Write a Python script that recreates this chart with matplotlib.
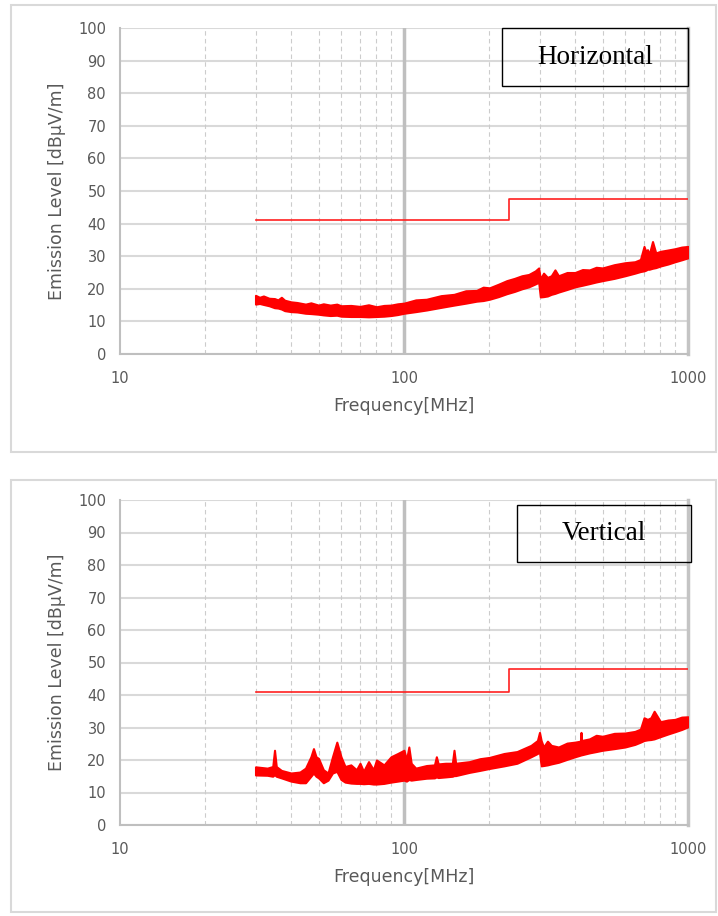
"""
Radiated emission plots, horizontal and vertical polarisation
"""

import matplotlib
matplotlib.use("Agg")
import matplotlib.pyplot as plt
from matplotlib.patches import Rectangle
from matplotlib.ticker import FixedLocator, NullFormatter

# limit line (MHz, dBuV/m)
LIM_FREQ = [30, 235, 235, 1000]
H_LIMIT = [41, 41, 47.5, 47.5]
V_LIMIT = [41, 41, 48, 48]

# horizontal trace envelope
H_FREQ = [30, 31, 32, 33.5, 35, 36, 37, 38, 40, 42, 45, 47, 50, 52, 55, 58,
          60, 65, 70, 75, 80, 85, 90, 95, 100, 110, 120, 135, 150, 165, 180,
          190, 200, 215, 230, 245, 260, 275, 290, 298, 302, 310, 320, 330,
          340, 350, 375, 400, 425, 450, 475, 500, 550, 600, 650, 680, 700,
          710, 720, 730, 750, 770, 800, 850, 900, 950, 1000]
H_UPPER = [18, 17.4, 17.8, 17.1, 17, 16.6, 17.4, 16.5, 16, 15.8, 15.3, 15.7,
           15, 15.4, 15, 15.3, 14.8, 14.9, 14.6, 15.1, 14.5, 14.9, 15, 15.4,
           15.6, 16.6, 16.8, 17.9, 18.3, 19.4, 19.5, 20.5, 20.3, 21.4, 22.5,
           23.2, 24, 24.4, 25.5, 26.4, 23, 24.8, 23.5, 24, 25.8, 24, 25,
           25, 25.9, 25.8, 26.6, 26.4, 27.4, 28, 28.3, 29, 33, 31.5, 32,
           30.5, 34.5, 31, 31.5, 31.9, 32.3, 32.8, 33]
H_LOWER = [15.3, 15.5, 15.2, 14.8, 14.2, 14.1, 13.8, 13.3, 13, 12.9, 12.5,
           12.4, 12.2, 12, 11.8, 11.9, 11.6, 11.5, 11.5, 11.4, 11.5, 11.6,
           11.8, 12.1, 12.5, 13, 13.5, 14.3, 15, 15.6, 16.2, 16.4, 16.8,
           17.6, 18.5, 19.2, 20, 20.6, 21.5, 22, 17.5, 17.6, 17.8, 18.3,
           18.6, 19, 19.8, 20.6, 21.1, 21.6, 22.1, 22.5, 23.2, 24, 24.8,
           25.3, 25.5, 25.7, 26, 26, 26.3, 26.5, 27, 27.6, 28.3, 28.9, 29.5]

# vertical trace envelope
V_FREQ = [30, 33, 34.5, 35, 35.5, 37, 40, 43, 45, 47, 48, 49, 50, 52, 54, 56,
          58, 60, 62, 65, 68, 70, 72, 75, 78, 80, 85, 90, 95, 100, 102, 104,
          106, 110, 120, 128, 130, 132, 140, 148, 150, 152, 170, 185, 200,
          225, 250, 280, 295, 300, 304, 310, 320, 330, 350, 375, 400, 418,
          420, 422, 450, 475, 500, 550, 600, 650, 680, 700, 720, 740, 760,
          800, 850, 900, 950, 1000]
V_UPPER = [17.9, 17.5, 18, 23, 18, 16.8, 16, 16.3, 17.5, 21, 23.5, 21, 20.5,
           17, 16, 21, 25.5, 21, 18, 18.5, 17, 19, 16.5, 19.5, 17, 20, 18.5,
           21, 22, 23, 20, 24, 19, 17.5, 18.3, 18.5, 21, 18.8, 19, 19, 23, 19,
           19.5, 20.4, 20.8, 22, 22.6, 24.5, 26, 28.5, 26, 24, 25.8, 24.5,
           24, 25.2, 25.5, 25.8, 28.5, 26, 26.5, 27.6, 27.3, 28.2, 28.3,
           28.8, 29.5, 33, 32.5, 33, 35, 31.8, 32.3, 32.5, 33.2, 33.3]
V_LOWER = [15.4, 15.3, 15, 15.5, 15, 14.5, 13.5, 13, 13, 15, 16, 15, 14.5,
           13, 13.8, 16, 16.5, 14, 13.2, 12.9, 12.8, 12.8, 12.7, 12.8, 12.6,
           12.6, 12.8, 13.2, 13.5, 13.8, 13.5, 14, 13.8, 14, 14.4, 14.5, 14.8,
           14.6, 14.8, 15, 15.2, 15.2, 16.2, 16.8, 17.4, 18.2, 19, 21, 22,
           22.5, 18.2, 18.3, 18.5, 18.8, 19.3, 20.2, 21, 21.5, 21.8, 21.6,
           22.2, 22.6, 23, 23.5, 24, 24.8, 25.5, 26, 26.2, 26.3, 26.5, 27.2,
           28, 28.7, 29.4, 30.2]

Y_TICKS = list(range(0, 101, 10))
X_TICKS = [10, 100, 1000]
MINOR_X = [20, 30, 40, 50, 60, 70, 80, 90, 200, 300, 400, 500, 600, 700,
           800, 900]

W, H = 718, 916
TEXT_GRAY = "#595959"


def px_rect(fig, x0, y0, x1, y1, **kw):
    """rectangle given in pixel coords (origin top-left)"""
    r = Rectangle((x0 / W, 1 - y1 / H), (x1 - x0) / W, (y1 - y0) / H,
                  transform=fig.transFigure, fill=False, **kw)
    fig.patches.append(r)


def draw_panel(fig, rect, freq, upper, lower, limit, label, label_box):
    ax = fig.add_axes(rect)
    ax.set_xscale("log")
    ax.set_xlim(10, 1000)
    ax.set_ylim(0, 100)

    # grid
    for y in Y_TICKS:
        ax.axhline(y, color="#d9d9d9", lw=1.5, zorder=0)
    for x in MINOR_X:
        ax.axvline(x, color="#cccccc", lw=0.8, ls=(0, (4, 3)), zorder=0)
    ax.axvline(100, color="#bfbfbf", lw=2.5, zorder=0)

    ax.fill_between(freq, lower, upper, color="#ff0000", lw=1.5,
                    edgecolor="#ff0000", zorder=3)
    ax.plot(LIM_FREQ, limit, color="#ff2020", lw=1.2, zorder=3)

    ax.xaxis.set_major_locator(FixedLocator(X_TICKS))
    ax.xaxis.set_minor_formatter(NullFormatter())
    ax.set_xticks(X_TICKS)
    ax.set_xticklabels([str(t) for t in X_TICKS])
    ax.set_yticks(Y_TICKS)
    ax.tick_params(which="both", length=0, colors=TEXT_GRAY, labelsize=10.5)
    ax.tick_params(axis="x", pad=12)
    ax.tick_params(axis="y", pad=10)

    ax.spines["top"].set_visible(False)
    ax.spines["left"].set_color("#bfbfbf")
    ax.spines["left"].set_linewidth(1.5)
    ax.spines["bottom"].set_color("#bfbfbf")
    ax.spines["bottom"].set_linewidth(1.5)
    ax.spines["right"].set_color("#c4c4c4")
    ax.spines["right"].set_linewidth(2.5)

    ax.set_xlabel("Frequency[MHz]", color=TEXT_GRAY, fontsize=12.5,
                  labelpad=8)
    ax.set_ylabel("Emission Level [dBμV/m]", color=TEXT_GRAY, fontsize=12.5,
                  labelpad=9)

    # legend-ish label box
    x0, y0, x1, y1 = label_box
    px_rect(fig, x0, y0, x1, y1, edgecolor="black", lw=1.0, zorder=5)
    fig.text((x0 + x1) / 2 / W, 1 - (y0 + y1) / 2 / H, label,
             family="Liberation Serif", fontsize=19.5, ha="center",
             va="center")
    return ax


fig = plt.figure(figsize=(W / 100, H / 100), dpi=100)

# panel frames
px_rect(fig, 11, 5, 716, 452, edgecolor="#d9d9d9", lw=1.5)
px_rect(fig, 11, 480, 716, 912, edgecolor="#d9d9d9", lw=1.5)

draw_panel(fig, [120 / W, 1 - 354 / H, 568 / W, 326 / H],
           H_FREQ, H_UPPER, H_LOWER, H_LIMIT, "Horizontal",
           (502, 28, 688, 86))
draw_panel(fig, [120 / W, 1 - 825 / H, 568 / W, 325 / H],
           V_FREQ, V_UPPER, V_LOWER, V_LIMIT, "Vertical",
           (517, 505, 691, 562))

fig.savefig("out.png", dpi=100)
